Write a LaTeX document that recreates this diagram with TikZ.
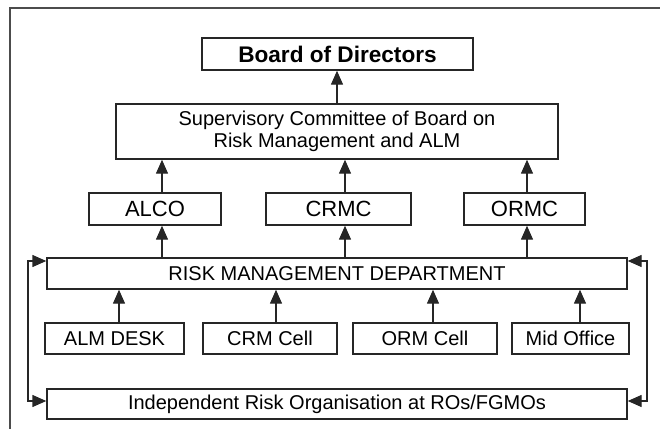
\documentclass[tikz,border=0pt]{standalone}
\usepackage{fontspec}
\setmainfont{Liberation Sans}
\usetikzlibrary{arrows.meta}
\tikzset{orgbox/.style={rectangle, draw=black!85, line width=0.7pt, inner sep=0pt, align=center, 
font=\fontsize{10}{10.9}\selectfont},
uparrow/.style={draw=black!85, line width=0.7pt, -{Triangle[length=7pt,width=6pt]}},
looparrow/.style={draw=black!85, line width=0.7pt, {Triangle[length=7pt,width=6pt]}-{Triangle[length=7pt,width=6pt]}}}

\begin{document}
\begin{tikzpicture}[x=0.5pt, y=-0.5pt]
\useasboundingbox (0,0) rectangle (660,429);

%%Frame
\draw[black!70, line width=0.7pt] (10,429) -- (10,8) -- (660,8);

%%Board and committees
\node[orgbox, minimum width=135.5pt, minimum height=16pt, font=\fontsize{11.3}{13}\selectfont\bfseries] (board) at (337.5,54) {Board of Directors};
\node[orgbox, minimum width=221pt, minimum height=27.5pt] (sup) at (337,131.5) {Supervisory Committee of Board on\\ Risk Management and ALM};

\begin{scope}[every node/.style={orgbox, minimum height=16pt, font=\fontsize{11}{13}\selectfont}]
\node[minimum width=66pt] (alco) at (155,209) {ALCO};
\node[minimum width=72.5pt] (crmc) at (338.5,209) {CRMC};
\node[minimum width=60.5pt] (ormc) at (524.5,209) {ORMC};
\end{scope}

%%Department
\node[orgbox, minimum width=290pt, minimum height=15.5pt] (rmd) at (337,273.5) {RISK MANAGEMENT DEPARTMENT};

\begin{scope}[every node/.style={orgbox, minimum height=15.5pt}]
\node[minimum width=69.5pt] (alm) at (114.5,338.5) {ALM DESK};
\node[minimum width=67pt] (crm) at (270,338.5) {CRM Cell};
\node[minimum width=72pt] (orm) at (425,338.5) {ORM Cell};
\node[minimum width=58.5pt] (mid) at (570.5,338.5) {Mid Office};
\end{scope}

\node[orgbox, minimum width=290pt, minimum height=15pt] (iro) at (337,404) {Independent Risk Organisation at ROs/FGMOs};

%%Reporting lines
\draw[uparrow] (sup.north -| 337,0) -- (board.south -| 337,0);
\foreach \a/\b/\x in {alco/sup/162, crmc/sup/345, ormc/sup/527, rmd/alco/162, rmd/crmc/345, rmd/ormc/527, alm/rmd/119, crm/rmd/276, orm/rmd/433, mid/rmd/580} {
  \draw[uparrow] (\x,0 |- \a.north) -- (\x,0 |- \b.south);
}

%%Side loops
\draw[looparrow] (rmd.west |- 0,261) -- (28,261) -- (28,401) -- (iro.west |- 0,401);
\draw[looparrow] (rmd.east |- 0,261) -- (647,261) -- (647,401) -- (iro.east |- 0,401);

\end{tikzpicture}
\end{document}
